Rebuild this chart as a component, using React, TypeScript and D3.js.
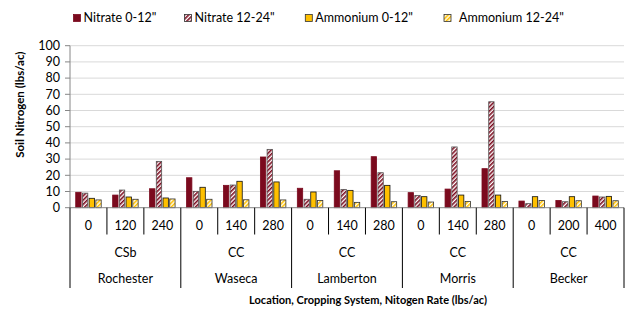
import React from "react";
import * as d3 from "d3";

const locations = ["Rochester", "Waseca", "Lamberton", "Morris", "Becker"];
const systems = ["CSb", "CC", "CC", "CC", "CC"];
const rates = ["0", "120", "240", "0", "140", "280", "0", "140", "280", "0", "140", "280", "0", "200", "400"];
const seriesNames = ['Nitrate 0-12"', 'Nitrate 12-24"', 'Ammonium 0-12"', 'Ammonium 12-24"'];
const nitrate0 = [9.5, 7.8, 11.7, 18.5, 13.8, 31.3, 12.0, 22.8, 31.5, 9.3, 11.5, 24.1, 4.1, 4.5, 7.2];
const nitrate12 = [9.0, 10.9, 28.6, 10.1, 14.0, 36.0, 5.2, 11.3, 21.6, 7.6, 37.5, 65.4, 2.5, 3.7, 6.6];
const ammonium0 = [5.8, 6.6, 6.0, 12.6, 16.3, 15.9, 9.7, 10.7, 13.8, 6.8, 7.8, 7.8, 6.8, 6.8, 7.0];
const ammonium12 = [4.8, 5.2, 5.4, 5.2, 4.9, 4.8, 4.5, 3.3, 3.7, 3.5, 3.9, 3.9, 4.5, 4.3, 4.3];
const yTicks = [0, 10, 20, 30, 40, 50, 60, 70, 80, 90, 100];

const FONT = "Lato, 'Open Sans', sans-serif";
const MAROON = "#7B0A1E";
const GOLD = "#FFC000";

export default function App() {
  const W = 637, H = 323;
  const left = 70, right = 624, top = 45.7, bottom = 207.7;
  const series = [nitrate0, nitrate12, ammonium0, ammonium12];
  const idx = d3.range(rates.length);
  const x0 = d3.scaleBand<number>().domain(idx).range([left, right]).padding(0);
  const bw = x0.bandwidth();
  const x1 = d3.scaleBand<number>().domain([0, 1, 2, 3]).range([bw * 0.155, bw * 0.845]).paddingInner(0.2);
  const y = d3.scaleLinear().domain([0, 100]).range([bottom, top]);
  const fills = [MAROON, "url(#hatchN)", GOLD, "url(#hatchA)"];
  const strokes = [MAROON, "#555", "#111", "#333"];
  const groupW = bw * 3;
  const legendX = [73.5, 184.5, 305.3, 444];

  return (
    <svg width={W} height={H} style={{ position: "absolute", left: 0, top: 0, background: "#fff" }} fontFamily={FONT}>
      <defs>
        <pattern id="hatchN" width="3" height="3" patternUnits="userSpaceOnUse" patternTransform="rotate(45)">
          <rect width="3" height="3" fill="#fff" />
          <rect width="1.6" height="3" fill={MAROON} />
        </pattern>
        <pattern id="hatchA" width="3" height="3" patternUnits="userSpaceOnUse" patternTransform="rotate(45)">
          <rect width="3" height="3" fill="#fff" />
          <rect width="1.6" height="3" fill={GOLD} />
        </pattern>
      </defs>
      <rect width={W} height={H} fill="#fff" />
      {yTicks.filter(t => t > 0).map(t => (
        <line key={t} x1={left} x2={right} y1={y(t)} y2={y(t)} stroke="#D9D9D9" strokeWidth={1} />
      ))}
      <line x1={left} x2={left} y1={top} y2={bottom} stroke="#868686" />
      {yTicks.map(t => (
        <g key={t}>
          <line x1={left - 5} x2={left} y1={y(t)} y2={y(t)} stroke="#868686" />
          <text x={left - 10} y={y(t)} dy="0.35em" textAnchor="end" fontSize={12.5} fill="#000">{t}</text>
        </g>
      ))}
      <text transform={`translate(24,${(top + bottom) / 2 - 22}) rotate(-90)`} textAnchor="middle" fontSize={11.5} fontWeight="bold" fill="#000">
        Soil Nitrogen (lbs/ac)
      </text>
      {idx.map(i => (
        <g key={i} transform={`translate(${x0(i)},0)`}>
          {series.map((s, k) => (
            <rect key={k} x={x1(k)} y={y(s[i])} width={x1.bandwidth()} height={bottom - y(s[i])}
              fill={fills[k]} stroke={strokes[k]} strokeWidth={0.8} />
          ))}
        </g>
      ))}
      <line x1={left} x2={right} y1={bottom} y2={bottom} stroke="#868686" />
      {idx.map(i => (
        <text key={i} x={(x0(i) as number) + bw / 2} y={226} dy="0.35em" textAnchor="middle" fontSize={12.5} fill="#000">{rates[i]}</text>
      ))}
      {idx.filter(i => i % 3 !== 0).map(i => (
        <line key={i} x1={x0(i)} x2={x0(i)} y1={bottom} y2={234.5} stroke="#000" />
      ))}
      {d3.range(locations.length + 1).map(g => (
        <line key={g} x1={left + g * groupW} x2={left + g * groupW} y1={bottom} y2={288} stroke="#000" />
      ))}
      {locations.map((loc, g) => (
        <g key={g}>
          <text x={left + g * groupW + groupW / 2} y={253} dy="0.35em" textAnchor="middle" fontSize={12.5} fill="#000">{systems[g]}</text>
          <text x={left + g * groupW + groupW / 2} y={279} dy="0.35em" textAnchor="middle" fontSize={12.5} fill="#000">{loc}</text>
        </g>
      ))}
      <text x={(left + right) / 2 + 21} y={300} dy="0.35em" textAnchor="middle" fontSize={11} fontWeight="bold" fill="#000">
        Location, Cropping System, Nitogen Rate (lbs/ac)
      </text>
      {seriesNames.map((n, k) => (
        <g key={k} transform={`translate(${legendX[k]},18)`}>
          <rect x={0} y={-3.5} width={7} height={7} fill={fills[k]} stroke={k === 0 ? MAROON : "#333"} strokeWidth={0.8} />
          <text x={k === 3 ? 15 : 10} y={0} dy="0.35em" fontSize={12.5} fill="#000">{n}</text>
        </g>
      ))}
    </svg>
  );
}
